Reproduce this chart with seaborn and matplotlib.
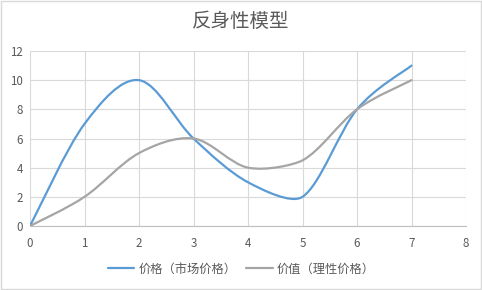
import numpy as np
import matplotlib
matplotlib.use("Agg")
import matplotlib.pyplot as plt
from matplotlib.path import Path
from matplotlib.patches import PathPatch, Rectangle
from matplotlib.lines import Line2D
import seaborn as sns

# ---- data ----
x_vals = [0, 1, 2, 3, 4, 5, 6, 7]
price = [0, 7, 10, 6, 3, 2, 8, 11]
value = [0, 2, 5, 6, 4, 4.5, 8, 10]
series_names = ["价格（市场价格）", "价值（理性价格）"]
title = "反身性模型"
x_ticks = [0, 1, 2, 3, 4, 5, 6, 7, 8]
y_ticks = [0, 2, 4, 6, 8, 10, 12]

sns.set_theme(style="whitegrid")
plt.rcParams["font.family"] = ["Noto Sans CJK SC", "DejaVu Sans"]

fig = plt.figure(figsize=(4.82, 2.90), dpi=100)
fig.patch.set_facecolor("white")
ax = fig.add_axes([30 / 482, 1 - 226 / 290, 436 / 482, 175 / 290])
ax.set_facecolor("white")


def smooth_path(xs, ys, yk=3.0):
    """Excel-like smoothed Bezier path through the points."""
    pts = np.column_stack([xs, ys]).astype(float)
    n = len(pts)

    def dist(a, b):
        d = a - b
        return np.hypot(d[0], d[1] * yk)

    verts = [pts[0]]
    codes = [Path.MOVETO]
    f = 1.0 / 6.0
    for i in range(n - 1):
        p0 = pts[i - 1] if i > 0 else pts[i]
        p1 = pts[i]
        p2 = pts[i + 1]
        p3 = pts[i + 2] if i + 2 < n else pts[i + 1]
        d12 = dist(p1, p2)
        d02 = dist(p0, p2)
        d13 = dist(p1, p3)
        f0 = f if d02 * f < d12 / 2 else (d12 / d02 / 2 if d02 > 0 else f)
        f1 = f if d13 * f < d12 / 2 else (d12 / d13 / 2 if d13 > 0 else f)
        c1 = p1 + f0 * (p2 - p0)
        c2 = p2 - f1 * (p3 - p1)
        verts += [c1, c2, p2]
        codes += [Path.CURVE4] * 3
    return Path(verts, codes)


colors = ["#5B9BD5", "#A5A5A5"]
for ys, c in zip([price, value], colors):
    patch = PathPatch(smooth_path(x_vals, ys), facecolor="none", edgecolor=c,
                      linewidth=1.6, capstyle="round", joinstyle="round", zorder=3)
    ax.add_patch(patch)

ax.set_xlim(0, 8)
ax.set_ylim(0, 12)
ax.set_xticks(x_ticks)
ax.set_yticks(y_ticks)
ax.grid(True, color="#D9D9D9", linewidth=0.8)
for s in ["top", "right", "left"]:
    ax.spines[s].set_visible(False)
ax.spines["bottom"].set_visible(True)
ax.spines["bottom"].set_color("#BFBFBF")
ax.spines["bottom"].set_linewidth(0.8)
ax.tick_params(axis="both", labelsize=8.3, colors="#595959", length=0, pad=5)
ax.tick_params(axis="x", pad=8)

fig.text(0.5, 1 - 21 / 290, title, ha="center", va="center", fontsize=14,
         color="#595959")

handles = [Line2D([0], [0], color=c, linewidth=1.6) for c in colors]
fig.legend(handles, series_names, loc="center", bbox_to_anchor=(0.5, 1 - 269 / 290),
           ncol=2, frameon=False, fontsize=8.8, handlelength=2.2, handletextpad=0.3,
           columnspacing=0.8, labelcolor="#595959")

fig.patches.append(Rectangle((0.002, 0.003), 0.995, 0.994, transform=fig.transFigure,
                             fill=False, edgecolor="#D9D9D9", linewidth=1.0))

fig.savefig("out.png", dpi=100)
